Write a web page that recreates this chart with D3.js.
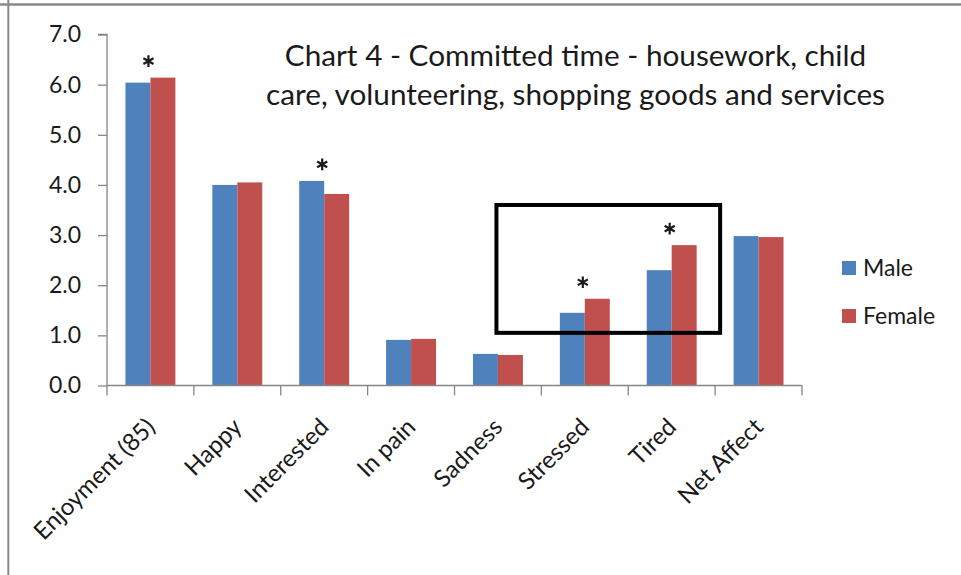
<!DOCTYPE html>
<html>
<head>
<meta charset="utf-8">
<script src="https://cdn.jsdelivr.net/npm/d3@7"></script>
<style>
  html, body { margin: 0; padding: 0; background: #fff; }
  svg { display: block; font-family: Lato, "Open Sans", sans-serif; }
</style>
</head>
<body>
<script>
// Mean ratings for committed-time activities, by sex
const categories = ["Enjoyment (85)", "Happy", "Interested", "In pain", "Sadness", "Stressed", "Tired", "Net Affect"];
const maleValues = [6.04, 4.00, 4.08, 0.91, 0.63, 1.45, 2.30, 2.98];
const femaleValues = [6.14, 4.05, 3.82, 0.93, 0.61, 1.73, 2.80, 2.96];
const seriesNames = ["Male", "Female"];
const yTicks = [0, 1, 2, 3, 4, 5, 6, 7];
// categories where the male/female difference is marked as significant
const significant = ["Enjoyment (85)", "Interested", "Stressed", "Tired"];
// highlighted region: from the middle of "Sadness" to the start of "Net Affect", y 1.05..3.6
const highlight = { from: "Sadness", to: "Net Affect", yLow: 1.05, yHigh: 3.6 };
const titleLines = [
  "Chart 4 - Committed time - housework, child",
  "care, volunteering, shopping goods and services"
];

const W = 961, H = 575;
const colors = { Male: "#4F81BD", Female: "#C0504D" };
const axisColor = "#868686";

const svg = d3.select("body").append("svg")
  .attr("width", W).attr("height", H);

svg.append("rect").attr("width", W).attr("height", H).attr("fill", "#fff");

// sheet border lines
svg.append("line").attr("x1", 0).attr("x2", W).attr("y1", 4.5).attr("y2", 4.5)
  .attr("stroke", "#8a8a8a").attr("stroke-width", 2.5);
svg.append("line").attr("x1", 8.3).attr("x2", 8.3).attr("y1", 0).attr("y2", H)
  .attr("stroke", "#8a8a8a").attr("stroke-width", 2);

const plot = { left: 107, right: 802, top: 34.5, bottom: 385.5 };

const x0 = d3.scaleBand().domain(categories).range([plot.left, plot.right]).padding(0);
const x1 = d3.scaleBand().domain(seriesNames).range([0, x0.bandwidth()])
  .paddingInner(0).paddingOuter(0.74);
const y = d3.scaleLinear().domain([0, 7]).range([plot.bottom, plot.top]);

const rows = categories.map((c, i) => ({ category: c, Male: maleValues[i], Female: femaleValues[i] }));

// bars
const groups = svg.append("g").selectAll("g").data(rows).join("g")
  .attr("transform", d => `translate(${x0(d.category)},0)`);
groups.selectAll("rect")
  .data(d => seriesNames.map(s => ({ key: s, value: d[s] })))
  .join("rect")
  .attr("x", d => x1(d.key))
  .attr("width", x1.bandwidth())
  .attr("y", d => y(d.value))
  .attr("height", d => y(0) - y(d.value))
  .attr("fill", d => colors[d.key]);

// y axis
const yAxis = d3.axisLeft(y).tickValues(yTicks).tickFormat(d3.format(".1f"))
  .tickSize(9).tickPadding(17);
const gy = svg.append("g").attr("transform", `translate(${plot.left},0)`).call(yAxis);
gy.select(".domain").attr("stroke", axisColor).attr("stroke-width", 1.3)
  .attr("d", `M-9,${plot.top}H0V${plot.bottom}`);
gy.selectAll(".tick line").attr("stroke", axisColor).attr("stroke-width", 1.3);
gy.selectAll(".tick text").attr("font-family", "Lato, sans-serif")
  .attr("font-size", 23).attr("fill", "#1a1a1a");

// x axis: baseline with ticks at category boundaries
const gx = svg.append("g");
gx.append("line").attr("x1", plot.left).attr("x2", plot.right)
  .attr("y1", y(0)).attr("y2", y(0)).attr("stroke", axisColor).attr("stroke-width", 1.3);
const boundaries = categories.map(c => x0(c)).concat([x0(categories[categories.length - 1]) + x0.step()]);
gx.selectAll("line.tick").data(boundaries).join("line").attr("class", "tick")
  .attr("x1", d => d).attr("x2", d => d)
  .attr("y1", y(0)).attr("y2", y(0) + 10)
  .attr("stroke", axisColor).attr("stroke-width", 1.3);
gx.selectAll("text").data(categories).join("text")
  .attr("transform", d => `translate(${x0(d) + x0.bandwidth() / 2 + 6},${y(0) + 43}) rotate(-45)`)
  .attr("text-anchor", "end")
  .attr("font-size", 24).attr("fill", "#1a1a1a")
  .text(d => d);

// significance markers: six-spoke asterisk above the taller bar of each pair
const asterisk = d3.symbol().type(d3.symbolAsterisk).size(95);
svg.append("g").selectAll("path").data(rows.filter(r => significant.includes(r.category)))
  .join("path")
  .attr("transform", d => `translate(${x0(d.category) + x0.bandwidth() / 2 - 2},${y(Math.max(d.Male, d.Female)) - 16.5})`)
  .attr("d", asterisk)
  .attr("fill", "none").attr("stroke", "#1a1a1a").attr("stroke-width", 2.2);

// highlight box
svg.append("rect")
  .attr("x", x0(highlight.from) + x0.bandwidth() / 2 - 1.5)
  .attr("y", y(highlight.yHigh))
  .attr("width", (x0(highlight.to) + 5) - (x0(highlight.from) + x0.bandwidth() / 2 - 1.5))
  .attr("height", y(highlight.yLow) - y(highlight.yHigh))
  .attr("fill", "none").attr("stroke", "#000").attr("stroke-width", 4);

// title, sized so the longer line spans its slot
const title = svg.append("g");
const titleCx = 575.5, titleWidth = 619;
const tLines = title.selectAll("text").data(titleLines).join("text")
  .attr("x", titleCx).attr("y", (d, i) => 66 + i * 39)
  .attr("text-anchor", "middle").attr("font-size", 28).attr("fill", "#1a1a1a")
  .text(d => d);
const widest = d3.max(tLines.nodes(), n => n.getComputedTextLength());
tLines.attr("font-size", 28 * titleWidth / widest);

// legend
const legend = svg.append("g").selectAll("g").data(seriesNames).join("g")
  .attr("transform", (d, i) => `translate(842,${261 + i * 48})`);
legend.append("rect").attr("width", 14).attr("height", 14).attr("fill", d => colors[d]);
legend.append("text").attr("x", 21).attr("y", 15).attr("font-size", 23)
  .attr("fill", "#1a1a1a").text(d => d);
</script>
</body>
</html>
